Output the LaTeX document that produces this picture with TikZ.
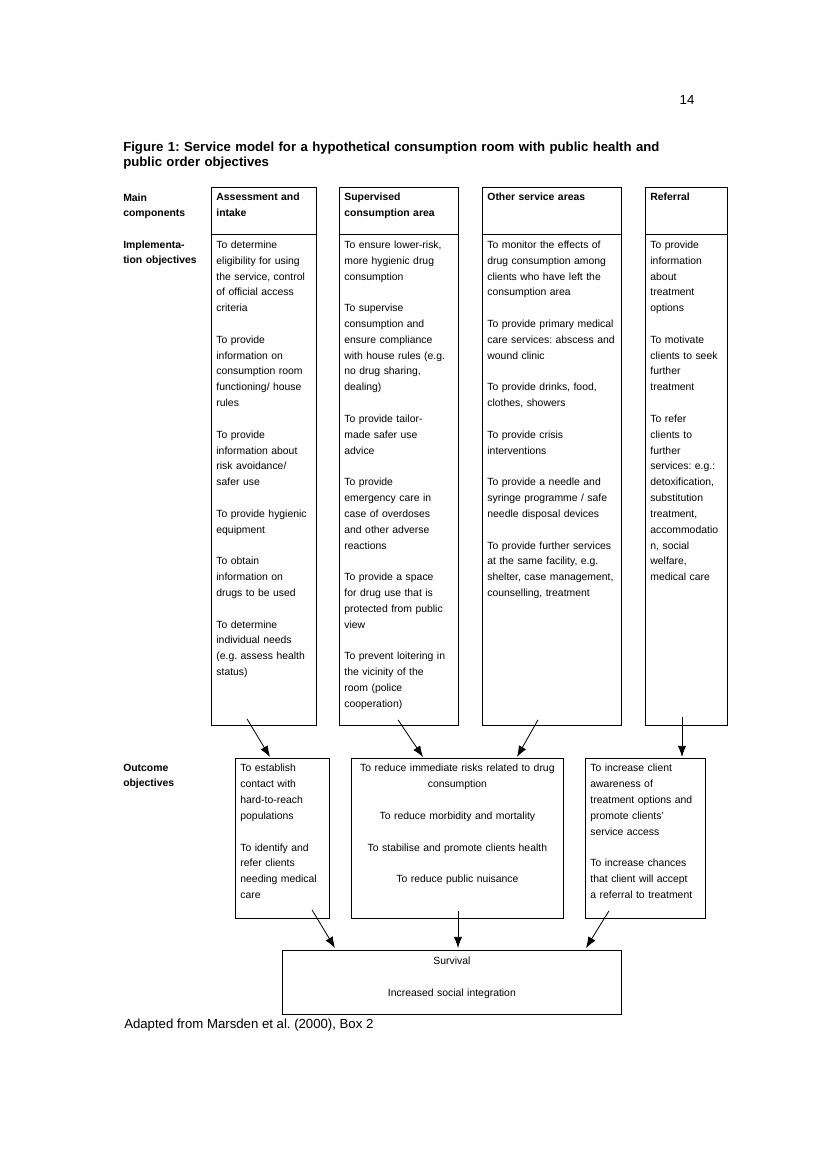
\documentclass[tikz,border=0pt]{standalone}
\usepackage{fontspec}
\setmainfont{Liberation Sans}
\usetikzlibrary{arrows.meta,calc}

\newdimen\px \px=0.7206pt
\newcommand{\bodyfont}{\fontsize{7.5}{11.4}\selectfont}
\newcommand{\titlefont}{\fontsize{9.5}{11.2}\selectfont}
\newcommand{\skipline}{\\[11.4pt]}
\frenchspacing

\begin{document}
\begin{tikzpicture}[
    x=0.7206pt, y=-0.7206pt,
    >={Latex[length=8pt,width=6pt]},
    every node/.style={font=\bodyfont, inner ysep=0pt, inner xsep=5\px},
    head/.style={draw, line width=0.6pt, anchor=north west, align=left, font=\bodyfont\bfseries, text height=13.5\px, text depth=33.5\px},
    body/.style={draw, line width=0.6pt, anchor=north west, align=left, text height=14\px, text depth=477\px},
    outcome/.style={draw, line width=0.6pt, anchor=north west, align=left, text height=13.5\px, text depth=146.5\px},
    final/.style={draw, line width=0.6pt, anchor=north west, align=center, text height=14\px, text depth=50\px},
    rowlabel/.style={anchor=base west, align=left, inner sep=0pt, font=\bodyfont\bfseries, text width=85\px},
    link/.style={->, line width=0.6pt}
  ]

  % page
  \path[use as bounding box, fill=white] (0,0) rectangle (826,1169);

  %------------------ Title ------------------%
  \node[anchor=base, inner sep=0pt, font=\titlefont] (pageno) at (687,104) {14};
  \node[anchor=base west, align=left, inner sep=0pt, text width=620\px, font=\titlefont\bfseries] (title) at (123,151)
    {Figure 1: Service model for a hypothetical consumption room with public health and\\public order objectives};

  % Row labels
  \node[rowlabel] (lmain) at (123,201) {Main\\components};
  \node[rowlabel] (limpl) at (123,248) {Implementa-\\tion objectives};
  \node[rowlabel] (lout) at (123,771) {Outcome\\objectives};

  %------------------ Main components ------------------%
  \node[head, text width=95\px] (h1) at (211,187) {Assessment and\\intake};
  \node[head, text width=109\px] (h2) at (339,187) {Supervised\\consumption area};
  \node[head, text width=129\px] (h3) at (482,187) {Other service areas};
  \node[head, text width=72\px] (h4) at (645,187) {Referral};

  %------------------ Implementation objectives ------------------%
  \node[body, text width=95\px] (b1) at (211,234)
    {To determine\\eligibility for using\\the service, control\\of official access\\criteria\skipline
     To provide\\information on\\consumption room\\functioning/ house\\rules\skipline
     To provide\\information about\\risk avoidance/\\safer use\skipline
     To provide hygienic\\equipment\skipline
     To obtain\\information on\\drugs to be used\skipline
     To determine\\individual needs\\(e.g. assess health\\status)};
  \node[body, text width=109\px] (b2) at (339,234)
    {To ensure lower-risk,\\more hygienic drug\\consumption\skipline
     To supervise\\consumption and\\ensure compliance\\with house rules (e.g.\\no drug sharing,\\dealing)\skipline
     To provide tailor-\\made safer use\\advice\skipline
     To provide\\emergency care in\\case of overdoses\\and other adverse\\reactions\skipline
     To provide a space\\for drug use that is\\protected from public\\view\skipline
     To prevent loitering in\\the vicinity of the\\room (police\\cooperation)};
  \node[body, text width=129\px] (b3) at (482,234)
    {To monitor the effects of\\drug consumption among\\clients who have left the\\consumption area\skipline
     To provide primary medical\\care services: abscess and\\wound clinic\skipline
     To provide drinks, food,\\clothes, showers\skipline
     To provide crisis\\interventions\skipline
     To provide a needle and\\syringe programme / safe\\needle disposal devices\skipline
     To provide further services\\at the same facility, e.g.\\shelter, case management,\\counselling, treatment};
  \node[body, text width=72\px] (b4) at (645,234)
    {To provide\\information\\about\\treatment\\options\skipline
     To motivate\\clients to seek\\further\\treatment\skipline
     To refer\\clients to\\further\\services: e.g.:\\detoxification,\\substitution\\treatment,\\accommodatio\\n, social\\welfare,\\medical care};

  %------------------ Outcome objectives ------------------%
  \node[outcome, text width=84\px] (oa) at (235,758)
    {To establish\\contact with\\hard-to-reach\\populations\skipline
     To identify and\\refer clients\\needing medical\\care};
  \node[outcome, align=center, text width=202\px] (ob) at (351,758)
    {To reduce immediate risks related to drug\\consumption\skipline
     To reduce morbidity and mortality\skipline
     To stabilise and promote clients health\skipline
     To reduce public nuisance};
  \node[outcome, text width=110\px] (oc) at (585,758)
    {To increase client\\awareness of\\treatment options and\\promote clients'\\service access\skipline
     To increase chances\\that client will accept\\a referral to treatment};

  % Final outcome
  \node[final, text width=329\px] (fin) at (282,950) {Survival\skipline Increased social integration};

  % Source
  \node[anchor=base west, inner sep=0pt, font=\titlefont] (source) at (124,1028) {Adapted from Marsden et al. (2000), Box 2};

  %------------------ Links ------------------%
  \coordinate (s1) at ($(b1.south west)+(36,-7)$);
  \coordinate (s2) at ($(b2.south west)+(59,-6)$);
  \coordinate (s3) at ($(b3.south west)+(56,-6)$);
  \coordinate (s4) at ($(b4.south west)+(37,-9)$);
  \coordinate (s5) at ($(oa.south west)+(77,-9)$);
  \coordinate (s6) at ($(ob.south west)+(107,-8)$);
  \coordinate (s7) at ($(oc.south west)+(24,-8)$);

  \draw[link] (s1) -- ($(oa.north west)+(35,-1)$);
  \draw[link] (s2) -- ($(ob.north west)+(72,-1)$);
  \draw[link] (s3) -- ($(ob.north west)+(166,-1)$);
  \draw[link] (s4) -- ($(oc.north west)+(97,-1)$);
  \draw[link] (s5) -- ($(fin.north west)+(53,-2)$);
  \draw[link] (s6) -- ($(fin.north west)+(176,-2)$);
  \draw[link] (s7) -- ($(fin.north west)+(304,-2)$);

\end{tikzpicture}
\end{document}
